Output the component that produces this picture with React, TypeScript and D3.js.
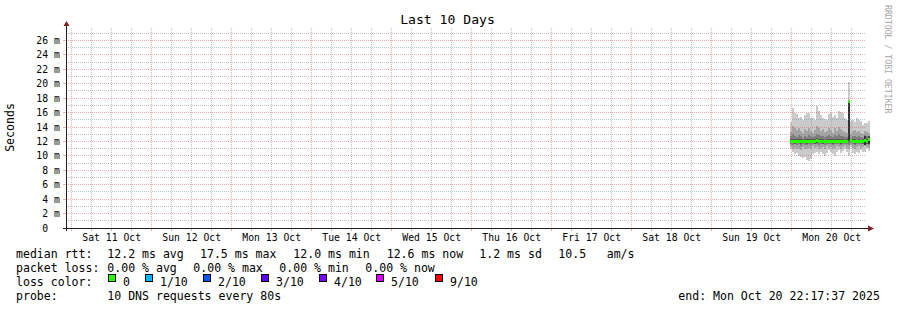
import React from 'react';
import * as d3 from 'd3';

// ---------------- data ----------------
const START = Date.UTC(2025, 9, 10, 22, 17, 37);
const END = Date.UTC(2025, 9, 20, 22, 17, 37);
const FIRST_SAMPLE = Date.UTC(2025, 9, 19, 23, 35, 37);
const STEP_S = 2160;

// sorted pings (ms) per sample: p1 (lowest) .. p10 (highest)
const ping1 = [10.9, 10.6, 10.3, 10.4, 10.0, 9.8, 9.7, 9.9, 9.4, 9.3, 9.6, 10.2, 10.4, 10.6, 10.3, 10.5, 10.2, 10.0, 10.4, 10.8, 10.6, 10.3, 10.0, 10.5, 10.8, 10.4, 10.7, 10.9, 10.6, 10.0, 11.2, 10.4, 10.2, 10.5, 10.4, 10.8, 10.5, 10.6, 10.9, 10.7];
const ping10 = [14.7, 16.6, 16.0, 15.8, 15.3, 15.4, 15.0, 15.6, 16.0, 15.9, 15.2, 15.3, 15.0, 16.9, 16.2, 15.6, 15.2, 15.1, 15.0, 15.8, 16.0, 15.4, 15.7, 15.2, 16.2, 16.1, 15.9, 15.2, 15.0, 20.2, 14.9, 15.0, 14.7, 15.2, 15.0, 14.8, 14.3, 14.6, 14.6, 14.9];
const ping2 = [11.3, 11.0, 11.1, 10.9, 11.0, 10.8, 11.2, 11.0, 10.9, 11.1, 11.0, 11.3, 11.1, 11.2, 11.0, 11.1, 11.2, 11.0, 11.3, 11.1, 11.2, 11.0, 11.1, 11.3, 11.2, 11.0, 11.2, 11.3, 11.1, 11.0, 11.5, 11.1, 11.0, 11.2, 11.3, 11.1, 11.2, 11.3, 11.2, 11.1];
const ping9 = [13.3, 14.2, 13.8, 13.6, 13.9, 13.4, 13.2, 13.7, 13.5, 13.9, 13.4, 13.2, 13.6, 14.1, 13.8, 13.4, 13.7, 13.3, 13.5, 13.9, 13.6, 13.2, 13.8, 13.5, 14.0, 13.7, 13.4, 13.3, 13.2, 17.8, 13.0, 13.4, 13.6, 13.3, 13.5, 13.2, 13.1, 13.4, 13.3, 13.2];
const ping3 = [11.6, 11.5, 11.6, 11.5, 11.6, 11.4, 11.6, 11.5, 11.5, 11.6, 11.5, 11.7, 11.6, 11.6, 11.5, 11.6, 11.6, 11.5, 11.7, 11.6, 11.6, 11.5, 11.6, 11.7, 11.6, 11.5, 11.6, 11.7, 11.6, 11.5, 11.8, 11.6, 11.5, 11.6, 11.7, 11.6, 11.6, 11.5, 11.6, 11.5];
const ping8 = [12.7, 13.0, 12.8, 12.6, 12.9, 12.7, 12.5, 12.8, 12.6, 12.9, 12.7, 12.6, 12.8, 13.1, 12.9, 12.7, 12.8, 12.6, 12.7, 12.9, 12.8, 12.6, 12.9, 12.7, 13.0, 12.8, 12.7, 12.6, 12.6, 17.6, 12.5, 12.7, 12.8, 12.6, 12.7, 12.6, 12.5, 12.9, 12.7, 12.8];
const ping4 = [11.8, 11.8, 11.7, 11.8, 11.8, 11.7, 11.8, 11.8, 11.7, 11.8, 11.8, 11.8, 11.7, 11.8, 11.8, 11.8, 11.7, 11.8, 11.8, 11.8, 11.8, 11.7, 11.8, 11.8, 11.8, 11.7, 11.8, 11.8, 11.8, 12.1, 11.9, 11.8, 11.7, 11.8, 11.8, 11.8, 11.7, 11.5, 11.7, 11.6];
const ping7 = [12.3, 12.4, 12.3, 12.3, 12.4, 12.3, 12.2, 12.3, 12.3, 12.4, 12.3, 12.3, 12.3, 12.5, 12.4, 12.3, 12.3, 12.2, 12.3, 12.4, 12.3, 12.3, 12.4, 12.3, 12.4, 12.3, 12.3, 12.2, 12.3, 17.5, 12.2, 12.3, 12.3, 12.2, 12.3, 12.2, 12.3, 12.8, 12.4, 12.7];
const ping5 = [11.9, 11.95, 11.9, 11.95, 11.9, 11.9, 11.95, 11.9, 11.9, 11.95, 11.9, 11.95, 11.9, 11.95, 11.9, 11.95, 11.9, 11.9, 11.95, 11.9, 11.95, 11.9, 11.95, 11.9, 11.95, 11.9, 11.95, 11.9, 11.95, 12.2, 12.0, 11.95, 11.9, 11.95, 11.9, 11.95, 11.9, 11.5, 11.8, 11.6];
const ping6 = [12.1, 12.15, 12.1, 12.1, 12.15, 12.1, 12.1, 12.15, 12.1, 12.1, 12.15, 12.1, 12.1, 12.2, 12.1, 12.15, 12.1, 12.1, 12.15, 12.1, 12.1, 12.15, 12.1, 12.1, 12.15, 12.1, 12.1, 12.1, 12.1, 17.5, 12.1, 12.1, 12.15, 12.1, 12.1, 12.1, 12.1, 12.8, 12.2, 12.6];
const medianRtt = [12.0, 12.05, 12.0, 12.05, 12.0, 12.0, 12.05, 12.0, 12.0, 12.05, 12.0, 12.05, 12.0, 12.1, 12.0, 12.05, 12.0, 12.0, 12.05, 12.0, 12.05, 12.0, 12.05, 12.0, 12.05, 12.0, 12.05, 12.0, 12.05, 17.5, 12.1, 12.05, 12.0, 12.05, 12.0, 12.05, 12.0, 12.1, 12.0, 12.3];

const yMajorTicks = [0, 2, 4, 6, 8, 10, 12, 14, 16, 18, 20, 22, 24, 26];
const yUnit = 'm';

const title = 'Last 10 Days';
const yTitle = 'Seconds';
const watermark = 'RRDTOOL / TOBI OETIKER';

const rttLabel = 'median rtt:';
const rttStats = ['12.2 ms avg', '17.5 ms max', '12.0 ms min', '12.6 ms now', '1.2 ms sd', '10.5', 'am/s'];
const lossLabel = 'packet loss:';
const lossStats = ['0.00 % avg', '0.00 % max', '0.00 % min', '0.00 % now'];
const lossColorLabel = 'loss color:';
const lossNames = ['0', '1/10', '2/10', '3/10', '4/10', '5/10', '9/10'];
const lossColors = ['#26ff00', '#00b8ff', '#0059ff', '#5e00ff', '#7e00ff', '#dd00ff', '#ff0000'];
const probeLabel = 'probe:';
const probeText = '10 DNS requests every 80s';
const endText = 'end: Mon Oct 20 22:17:37 2025';

// ---------------- layout ----------------
const W = 897, H = 310;
const X0 = 66, X1 = 866, Y0 = 228, Y1 = 28;
const Y_MAX = 27.73;
const FONT = "'DejaVu Sans Mono', 'Liberation Mono', monospace";
const AX_FS = 9.75;
const LG_FS = 11.55;
const rttX = [107.3, 200, 293.3, 386.7, 479.3, 558.3, 606.7];
const lossX = [107.3, 193.3, 279.3, 365.3];
const boxX = [108, 145, 203, 261, 319, 376, 435];

const GRID = 'rgba(143,143,143,0.55)';
const MGRID = 'rgba(222,79,79,0.45)';
const ARROW = 'rgb(128,31,31)';
const AXIS = 'rgb(31,31,31)';

export default function App() {
  const x = d3.scaleUtc().domain([START, END]).range([X0, X1]);
  const y = d3.scaleLinear().domain([0, Y_MAX]).range([Y0, Y1]);
  const snap = (v: number) => Math.floor(v) + 0.5;

  const sampleTimes = medianRtt.map((_, i) => FIRST_SAMPLE + i * STEP_S * 1000);
  const bands: [number[], number[], string][] = [
    [ping1, ping10, '#cacaca'],
    [ping2, ping9, '#a4a4a4'],
    [ping3, ping8, '#7e7e7e'],
    [ping4, ping7, '#585858'],
    [ping5, ping6, '#323232'],
  ];

  const hours = d3.utcHour.every(6)!.range(new Date(START), new Date(END));
  const days = d3.utcDay.range(new Date(START), new Date(END));
  const minorX = hours.filter(h => h.getUTCHours() !== 0);
  const noonLabels = days.map(d => d3.utcHour.offset(d, 12)).filter(d => +d < END);
  const fmt = d3.utcFormat('%a %d %b');

  const yMinor = d3.range(1, Math.floor(Y_MAX) + 1).filter(v => !yMajorTicks.includes(v));

  const yLabel = (v: number) => (v === 0 ? ' 0  ' : `${String(v).padStart(2, ' ')} ${yUnit}`);

  return (
    <svg width={W} height={H} style={{ position: 'absolute', left: 0, top: 0, background: '#fff' }}
      fontFamily={FONT}>
      <rect x={0} y={0} width={W} height={H} fill="#ffffff" />

      {/* smoke */}
      <g shapeRendering="crispEdges">
        {bands.map(([lo, hi, col], b) =>
          sampleTimes.map((t, i) => {
            const xa = x(t), xb = x(t + STEP_S * 1000);
            const ya = y(hi[i]), yb = y(lo[i]);
            return <rect key={`b${b}-${i}`} x={xa} y={ya} width={xb - xa} height={yb - ya} fill={col} />;
          })
        )}
      </g>

      {/* grid */}
      <g shapeRendering="crispEdges" strokeWidth={1}>
        {yMinor.map(v => (
          <line key={`ym${v}`} x1={X0} x2={X1} y1={snap(y(v))} y2={snap(y(v))} stroke={GRID} strokeDasharray="1,1" />
        ))}
        {minorX.map(h => (
          <g key={`xm${+h}`}>
            <line x1={snap(x(h))} x2={snap(x(h))} y1={Y1} y2={Y0} stroke={GRID} strokeDasharray="1,1" />
            <line x1={snap(x(h))} x2={snap(x(h))} y1={Y0} y2={Y0 + 3} stroke={GRID} />
          </g>
        ))}
        {yMajorTicks.filter(v => v > 0).map(v => (
          <g key={`yM${v}`}>
            <line x1={X0} x2={X1} y1={snap(y(v))} y2={snap(y(v))} stroke={MGRID} strokeDasharray="1,1" />
            <line x1={X0 - 3} x2={X0} y1={snap(y(v))} y2={snap(y(v))} stroke={MGRID} />
          </g>
        ))}
        {days.map(d => (
          <g key={`xM${+d}`}>
            <line x1={snap(x(d))} x2={snap(x(d))} y1={Y1} y2={Y0} stroke={MGRID} strokeDasharray="1,1" />
            <line x1={snap(x(d))} x2={snap(x(d))} y1={Y0} y2={Y0 + 3} stroke={MGRID} />
          </g>
        ))}
      </g>

      {/* median line */}
      <g shapeRendering="crispEdges">
        {sampleTimes.map((t, i) => {
          const xa = x(t), xb = x(t + STEP_S * 1000);
          return <rect key={`m${i}`} x={xa} y={y(medianRtt[i]) - 1.5} width={xb - xa} height={3} fill={lossColors[0]} />;
        })}
      </g>

      {/* axes */}
      <g shapeRendering="crispEdges">
        <line x1={X0 - 3} x2={X1 + 2} y1={Y0 + 0.5} y2={Y0 + 0.5} stroke={AXIS} />
        <line x1={X0 + 0.5} x2={X0 + 0.5} y1={Y0 + 3} y2={Y1 - 2} stroke={AXIS} />
      </g>
      <polygon points={`${X1 + 2},${Y0 - 2.5} ${X1 + 2},${Y0 + 3.5} ${X1 + 8},${Y0 + 0.5}`} fill={ARROW} />
      <polygon points={`${X0 - 2.5},${Y1 - 2} ${X0 + 3.5},${Y1 - 2} ${X0 + 0.5},${Y1 - 7}`} fill={ARROW} />

      {/* y tick labels */}
      {yMajorTicks.map(v => (
        <text key={`yl${v}`} x={36.3} y={y(v) + 3.5} fontSize={AX_FS} fill="#000" style={{ whiteSpace: 'pre' }}>
          {yLabel(v)}
        </text>
      ))}
      {/* x tick labels */}
      {noonLabels.map(d => (
        <text key={`xl${+d}`} x={x(d)} y={241} fontSize={AX_FS} textAnchor="middle" fill="#000">
          {fmt(d)}
        </text>
      ))}

      {/* title & axis title */}
      <text x={447.5} y={24} fontSize={13.1} textAnchor="middle" fill="#000">{title}</text>
      <text transform="translate(14,127.5) rotate(-90)" fontSize={LG_FS} textAnchor="middle" fill="#000">{yTitle}</text>
      <text transform="translate(885,5) rotate(90)" fontSize={8.2} fill="#a8a8a8">{watermark}</text>

      {/* legend */}
      <g fontSize={LG_FS} fill="#000" style={{ whiteSpace: 'pre' }}>
        <text x={16} y={258}>{rttLabel}</text>
        {rttStats.map((s, i) => <text key={`r${i}`} x={rttX[i]} y={258}>{s}</text>)}
        <text x={16} y={272}>{lossLabel}</text>
        {lossStats.map((s, i) => <text key={`l${i}`} x={lossX[i]} y={272}>{s}</text>)}
        <text x={16} y={286}>{lossColorLabel}</text>
        {lossNames.map((s, i) => (
          <g key={`c${i}`}>
            <rect x={boxX[i] + 0.5} y={274.5} width={7} height={7} fill={lossColors[i]} stroke="#000" strokeWidth={1} shapeRendering="crispEdges" />
            <text x={boxX[i] + 15} y={286}>{s}</text>
          </g>
        ))}
        <text x={16} y={300}>{probeLabel}</text>
        <text x={107.3} y={300}>{probeText}</text>
        <text x={678.3} y={300}>{endText}</text>
      </g>
    </svg>
  );
}
